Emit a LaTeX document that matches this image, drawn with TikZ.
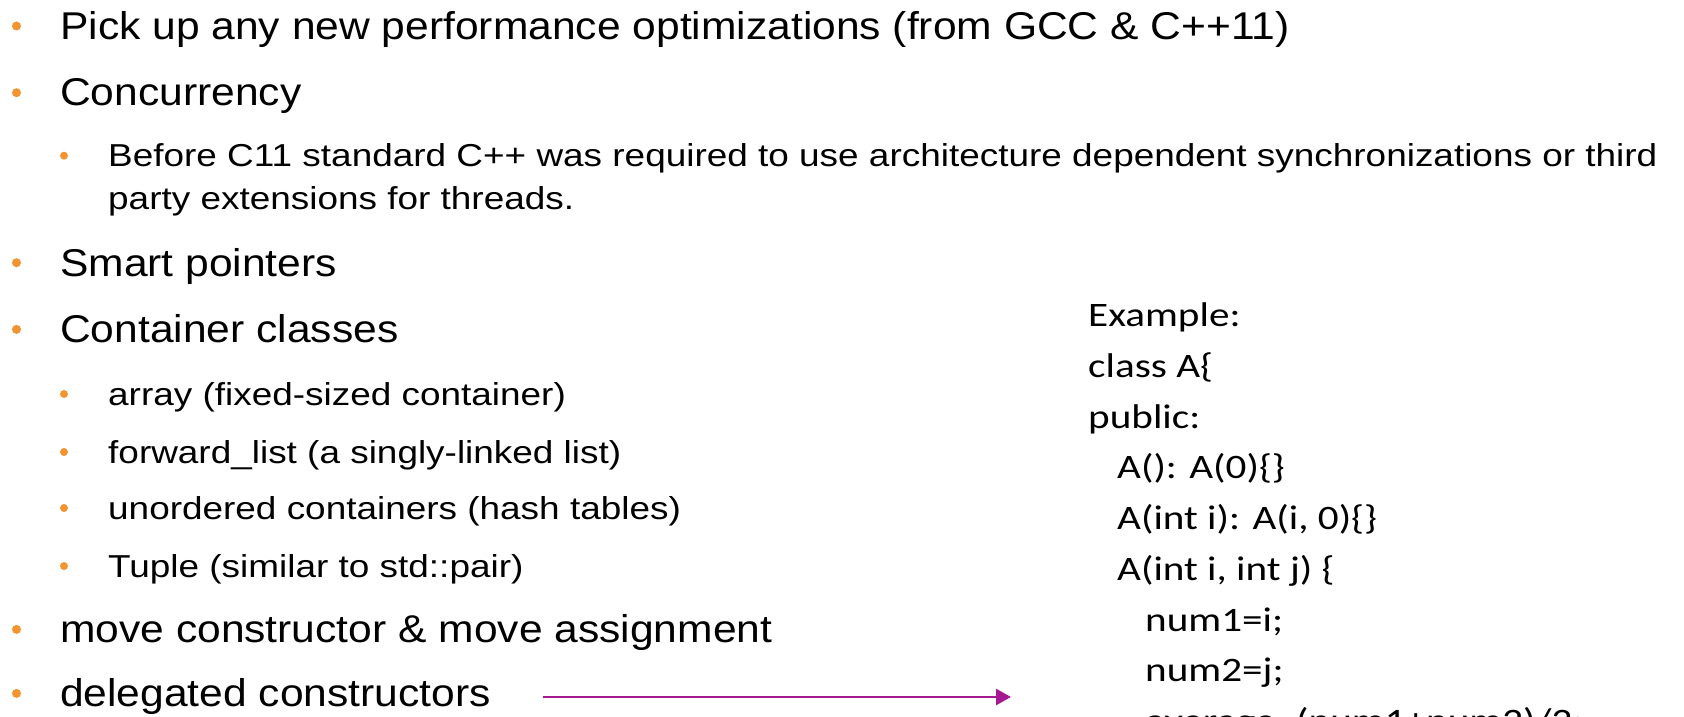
\documentclass[tikz,border=0pt]{standalone}
\usepackage{fontspec}
\usetikzlibrary{arrows.meta}
\setmainfont{Liberation Sans}
\newfontfamily\bodyfont[FakeStretch=1.10]{Liberation Sans}
\newfontfamily\subbodyfont[FakeStretch=1.165]{Liberation Sans}
\newfontfamily\codefont[FakeStretch=1.2]{Carlito}
\definecolor{bulletorange}{RGB}{242,148,48}
\definecolor{arrowmagenta}{RGB}{165,25,145}
\tikzset{
  topitem/.style={anchor=base west, inner sep=0pt, font=\bodyfont\fontsize{38.7}{44}\selectfont},
  subitem/.style={anchor=base west, inner sep=0pt, font=\subbodyfont\fontsize{31.7}{42}\selectfont},
  codeline/.style={anchor=base west, inner sep=0pt, font=\codefont\fontsize{34.3}{50.7}\selectfont},
  topdot/.style={circle, fill=bulletorange, inner sep=0pt, minimum size=9pt},
  subdot/.style={circle, fill=bulletorange, inner sep=0pt, minimum size=8pt},
  pointer/.style={draw=arrowmagenta, line width=2.7pt, -{Triangle[length=15pt,width=16pt]}}
}
\begin{document}
\begin{tikzpicture}[x=1pt,y=-1pt]
\useasboundingbox (0,0) rectangle (1684,717);
\clip (0,0) rectangle (1684,717);
\fill[white] (0,0) rectangle (1684,717);

% top-level bullets
\node[topdot] (b1) at (16.5,26) {};
\node[topitem] (t1) at (60,39.3) {Pick up any new performance optimizations (from GCC \& C++11)};
\node[topdot] (b2) at (16.5,92.7) {};
\node[topitem] (t2) at (60,106) {Concurrency};
\node[subdot] (b2a) at (64,155.7) {};
\node[subitem] (t2a) at (108,166.7) {Before C11 standard C++ was required to use architecture dependent synchronizations or third};
\node[subitem] (t2b) at (108,209) {party extensions for threads.};
\node[topdot] (b3) at (16.5,262.7) {};
\node[topitem] (t3) at (60,276) {Smart pointers};
\node[topdot] (b4) at (16.5,329.4) {};
\node[topitem] (t4) at (60,342.7) {Container classes};
\node[subdot] (b4a) at (64,394) {};
\node[subitem] (t4a) at (108,405) {array (fixed-sized container)};
\node[subdot] (b4b) at (64,452) {};
\node[subitem] (t4b) at (108,463) {forward\_list (a singly-linked list)};
\node[subdot] (b4c) at (64,508) {};
\node[subitem] (t4c) at (108,519) {unordered containers (hash tables)};
\node[subdot] (b4d) at (64,566) {};
\node[subitem] (t4d) at (108,577) {Tuple (similar to std::pair)};
\node[topdot] (b5) at (16.5,629.4) {};
\node[topitem] (t5) at (60,642.7) {move constructor \& move assignment};
\node[topdot] (b6) at (16.5,693.4) {};
\node[topitem] (t6) at (60,706.7) {delegated constructors};

% code example
\node[codeline] (c1) at (1088,326.7) {Example:};
\node[codeline] (c2) at (1088,377.4) {class A\{};
\node[codeline] (c3) at (1088,428) {public:};
\node[codeline] (c4) at (1117,478.8) {A(): A(0)\{\}};
\node[codeline] (c5) at (1117,529.5) {A(int i): A(i, 0)\{\}};
\node[codeline] (c6) at (1117,580.2) {A(int i, int j) \{};
\node[codeline] (c7) at (1145,631) {num1=i;};
\node[codeline] (c8) at (1145,681.6) {num2=j;};
\node[codeline] (c9) at (1145,732.3) {average=(num1+num2)/2;};

% pointer from the list item to the example
\coordinate (arrowstart) at (543,697);
\coordinate (arrowend) at (1011,697);
\draw[pointer] (arrowstart) -- (arrowend);
\end{tikzpicture}
\end{document}
